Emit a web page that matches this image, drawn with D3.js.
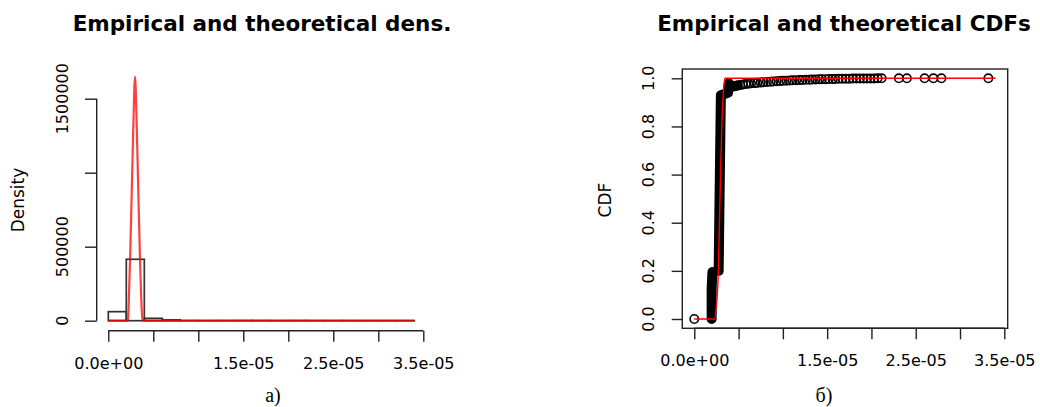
<!DOCTYPE html>
<html>
<head>
<meta charset="UTF-8">
<title>fit</title>
<script src="https://d3js.org/d3.v7.min.js"></script>
<style>
  body { margin: 0; background: #fff; }
  text { font-family: "DejaVu Sans", sans-serif; fill: #000; }
</style>
</head>
<body>
<script>
// ---- data ----
// histogram (left): bin edges and densities
const histBreaks = [0, 2e-6, 4e-6, 6e-6, 8e-6, 10e-6, 12e-6, 14e-6, 16e-6, 18e-6,
                    20e-6, 22e-6, 24e-6, 26e-6, 28e-6, 30e-6, 32e-6, 34e-6]
const histDensity = [61000, 415000, 16000, 6000, 500, 300, 400, 800, 600,
                     300, 400, 300, 200, 200, 150, 100, 100]

// fitted density (red, left)
const densX = [0, 2.0e-6, 2.2e-6, 2.3e-6, 2.42e-6, 2.6e-6, 2.78e-6, 2.97e-6,
               3.16e-6, 3.34e-6, 3.52e-6, 3.64e-6, 3.8e-6, 4.0e-6, 34e-6]
const densY = [0, 0, 10000, 180000, 415000, 860000, 1310000, 1650000,
               1310000, 860000, 415000, 180000, 10000, 0, 0]

// empirical CDF: runs where the circles pile up into a solid band
const run1X = [1.96e-6, 1.96e-6, 2.05e-6]
const run1F = [0.0, 0.13, 0.195]
const run2X = [2.75e-6, 2.85e-6, 3.0e-6, 3.4e-6, 3.8e-6, 3.9e-6, 4.2e-6, 4.8e-6]
const run2F = [0.2, 0.5, 0.93, 0.935, 0.94, 0.98, 0.965, 0.97]

// empirical CDF: single circles
const ecdfX = [0, 4.3e-6, 4.6e-6, 4.9e-6, 5.2e-6, 5.5e-6, 5.8e-6, 6.1e-6, 6.4e-6, 6.8e-6,
               7.1e-6, 7.5e-6, 7.8e-6, 8.2e-6, 8.6e-6, 8.9e-6, 9.3e-6, 9.7e-6, 10.0e-6,
               10.4e-6, 10.8e-6, 11.1e-6, 11.5e-6, 11.9e-6, 12.2e-6, 12.6e-6, 13.0e-6,
               13.3e-6, 13.7e-6, 14.1e-6, 14.4e-6, 14.8e-6, 15.2e-6, 15.6e-6, 15.9e-6,
               16.3e-6, 16.7e-6, 17.1e-6, 17.5e-6, 17.9e-6, 18.3e-6, 18.7e-6, 19.1e-6,
               19.5e-6, 19.9e-6, 20.3e-6, 20.7e-6, 21.15e-6, 23.1e-6, 24.0e-6,
               26.0e-6, 27.0e-6, 27.9e-6, 33.2e-6]
const ecdfF = [0, 0.965, 0.968, 0.970, 0.972, 0.974, 0.976, 0.977, 0.979, 0.980,
               0.981, 0.983, 0.984, 0.985, 0.986, 0.987, 0.988, 0.989, 0.990,
               0.990, 0.991, 0.992, 0.992, 0.993, 0.993, 0.994, 0.994,
               0.995, 0.995, 0.996, 0.996, 0.996, 0.997, 0.997, 0.997,
               0.998, 0.998, 0.998, 0.998, 0.999, 0.999, 0.999, 0.999,
               0.999, 0.999, 0.999, 1.0, 1.0, 1.0, 1.0,
               1.0, 1.0, 1.0, 1.0]

// fitted CDF (red, right)
const cdfX = [0, 2.3e-6, 2.5e-6, 2.7e-6, 2.9e-6, 3.1e-6, 3.3e-6, 3.45e-6, 34e-6]
const cdfF = [0, 0, 0.06, 0.18, 0.5, 0.8, 0.95, 1.0, 1.0]

// ticks
const xTicks = [0, 5e-6, 10e-6, 15e-6, 20e-6, 25e-6, 30e-6, 35e-6]
const xTickLabels = ["0.0e+00", "", "", "1.5e-05", "", "2.5e-05", "", "3.5e-05"]
const densTicks = [0, 500000, 1000000, 1500000]
const densTickLabels = ["0", "500000", "", "1500000"]
const cdfTicks = [0, 0.2, 0.4, 0.6, 0.8, 1.0]
const cdfTickLabels = ["0.0", "0.2", "0.4", "0.6", "0.8", "1.0"]

// ---- drawing ----
const svg = d3.select("body").append("svg")
    .attr("width", 1040)
    .attr("height", 407)

const axisColor = "#222"

function styleAxis(g) {
    g.selectAll("path, line").attr("stroke", axisColor).attr("stroke-width", 1.4)
    g.selectAll("text").attr("font-family", "DejaVu Sans").attr("font-size", 16).attr("fill", "#000")
}

// ===== left: density =====
let xL = d3.scaleLinear().domain([0, 35e-6]).range([108.3, 423.3])
let yL = d3.scaleLinear().domain([0, 1500000]).range([320.7, 98.7])

svg.append("text")
    .attr("x", 262).attr("y", 30.5)
    .attr("text-anchor", "middle")
    .attr("font-size", 21.5).attr("font-weight", "bold")
    .text("Empirical and theoretical dens.")

let bins = histDensity.map((d, i) => ({x0: histBreaks[i], x1: histBreaks[i + 1], d: d}))
svg.append("g").selectAll("rect")
    .data(bins).enter()
    .append("rect")
    .attr("x", d => xL(d.x0))
    .attr("width", d => xL(d.x1) - xL(d.x0))
    .attr("y", d => yL(d.d))
    .attr("height", d => yL(0) - yL(d.d))
    .attr("fill", "none")
    .attr("stroke", "#333")
    .attr("stroke-width", 1.7)

svg.append("path")
    .datum(densX.map((x, i) => [x, densY[i]]))
    .attr("d", d3.line().x(d => xL(d[0])).y(d => yL(d[1])).curve(d3.curveMonotoneX))
    .attr("fill", "none")
    .attr("stroke", "#ff0000")
    .attr("stroke-opacity", 0.75)
    .attr("stroke-width", 2.2)

let gxL = svg.append("g")
    .attr("transform", "translate(0,330.7)")
    .call(d3.axisBottom(xL).tickValues(xTicks).tickSize(11).tickPadding(15.5)
        .tickFormat((d, i) => xTickLabels[i]))
gxL.select(".domain").attr("d", "M" + xL(0) + ",0H" + xL(35e-6))
styleAxis(gxL)

let gyL = svg.append("g")
    .attr("transform", "translate(96.7,0)")
    .call(d3.axisLeft(yL).tickValues(densTicks).tickSize(11.7).tickFormat(""))
gyL.select(".domain").attr("d", "M0," + yL(0) + "V" + yL(1500000))
styleAxis(gyL)

svg.append("g").selectAll("text")
    .data(densTicks).enter()
    .append("text")
    .attr("transform", d => "translate(62.7," + yL(d) + ") rotate(-90)")
    .attr("dy", "0.35em")
    .attr("text-anchor", "middle")
    .attr("font-size", 16)
    .text((d, i) => densTickLabels[i])

svg.append("text")
    .attr("transform", "translate(18,200) rotate(-90)")
    .attr("dy", "0.35em")
    .attr("text-anchor", "middle")
    .attr("font-size", 17)
    .text("Density")

svg.append("text")
    .attr("x", 273).attr("y", 402)
    .attr("text-anchor", "middle")
    .style("font-family", "'Liberation Serif', serif")
    .attr("font-size", 20)
    .text("a)")

// ===== right: CDF =====
let xR = d3.scaleLinear().domain([0, 35e-6]).range([694.3, 1004.3])
let yR = d3.scaleLinear().domain([0, 1]).range([319, 78.3])

svg.append("text")
    .attr("x", 844).attr("y", 30.5)
    .attr("text-anchor", "middle")
    .attr("font-size", 21.5).attr("font-weight", "bold")
    .text("Empirical and theoretical CDFs")

let runLine = d3.line().x(d => xR(d[0])).y(d => yR(d[1]))
svg.append("g").selectAll("path")
    .data([run1X.map((x, i) => [x, run1F[i]]), run2X.map((x, i) => [x, run2F[i]])])
    .enter()
    .append("path")
    .attr("d", runLine)
    .attr("fill", "none")
    .attr("stroke", "#000")
    .attr("stroke-width", 10)
    .attr("stroke-linecap", "round")
    .attr("stroke-linejoin", "round")

svg.append("g").selectAll("circle")
    .data(ecdfX.map((x, i) => [x, ecdfF[i]]))
    .enter()
    .append("circle")
    .attr("cx", d => xR(d[0]))
    .attr("cy", d => yR(d[1]))
    .attr("r", 4.2)
    .attr("fill", "none")
    .attr("stroke", "#000")
    .attr("stroke-width", 1.6)

svg.append("path")
    .datum(cdfX.map((x, i) => [x, cdfF[i]]))
    .attr("d", d3.line().x(d => xR(d[0])).y(d => yR(d[1])).curve(d3.curveMonotoneX))
    .attr("fill", "none")
    .attr("stroke", "#ff0000")
    .attr("stroke-width", 1.4)

svg.append("rect")
    .attr("x", 682.3).attr("y", 69)
    .attr("width", 1007.7 - 682.3).attr("height", 328.3 - 69)
    .attr("fill", "none")
    .attr("stroke", axisColor)
    .attr("stroke-width", 1.4)

let gxR = svg.append("g")
    .attr("transform", "translate(0,328.3)")
    .call(d3.axisBottom(xR).tickValues(xTicks).tickSize(11).tickPadding(15.5)
        .tickFormat((d, i) => xTickLabels[i]))
gxR.select(".domain").attr("d", "M" + xR(0) + ",0H" + xR(35e-6))
styleAxis(gxR)

let gyR = svg.append("g")
    .attr("transform", "translate(682.3,0)")
    .call(d3.axisLeft(yR).tickValues(cdfTicks).tickSize(10.6).tickFormat(""))
gyR.select(".domain").remove()
styleAxis(gyR)

svg.append("g").selectAll("text")
    .data(cdfTicks).enter()
    .append("text")
    .attr("transform", d => "translate(648.3," + yR(d) + ") rotate(-90)")
    .attr("dy", "0.35em")
    .attr("text-anchor", "middle")
    .attr("font-size", 16)
    .text((d, i) => cdfTickLabels[i])

svg.append("text")
    .attr("transform", "translate(605,200) rotate(-90)")
    .attr("dy", "0.35em")
    .attr("text-anchor", "middle")
    .attr("font-size", 17)
    .text("CDF")

svg.append("text")
    .attr("x", 824).attr("y", 402)
    .attr("text-anchor", "middle")
    .style("font-family", "'Liberation Serif', serif")
    .attr("font-size", 20)
    .text("б)")
</script>
</body>
</html>
